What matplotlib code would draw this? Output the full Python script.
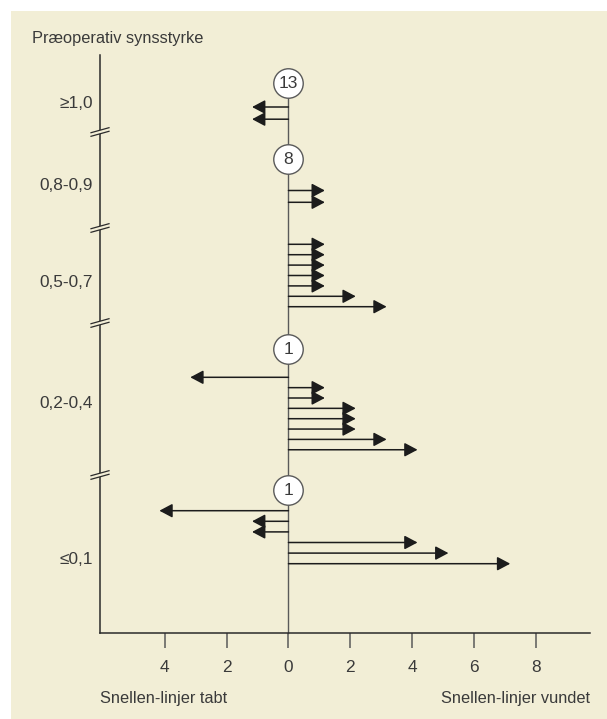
import numpy as np
import matplotlib.pyplot as plt
from matplotlib.patches import Rectangle, Polygon

plt.rcParams['font.family'] = ['Liberation Sans', 'DejaVu Sans']

# data: change in Snellen lines per eye, by preoperative visual acuity
groups = ['≥1,0', '0,8-0,9', '0,5-0,7', '0,2-0,4', '≤0,1']
unchanged = [13, 8, None, 1, 1]          # eyes with no change (circles)
changes = [[-1, -1],
           [1, 1],
           [1, 1, 1, 1, 1, 2, 3],
           [-3, 1, 1, 2, 2, 2, 3, 4],
           [-4, -1, -1, 4, 5, 7]]
xticks = [-4, -2, 0, 2, 4, 6, 8]

# layout (rows in pixels from top of figure)
label_rows = [102, 184, 281, 402, 558]
circle_rows = [83, 159, None, 349, 490]
first_rows = [107, 190.5, 244.3, 377.3, 510.7]
row_steps = [12.2, 11.8, 10.4, 10.35, 10.6]
break_rows = [132, 228, 323, 475]

W, H = 607, 719
bg = '#f2eed6'
dark = '#2b2b2b'
grey = '#5a5a5a'
txt = '#3a3a3a'
fs = 11.8
fs_lab = 12.4

fig = plt.figure(figsize=(W/100, H/100), dpi=100)
fig.patches.append(Rectangle((11/W, 0), 1 - 11/W, 1 - 11/H, transform=fig.transFigure,
                             facecolor=bg, edgecolor='none', zorder=-10))

x0, x1 = 100, 590.3
y_top, y_bot = 55, 632.7
ax = fig.add_axes([x0/W, 1 - y_bot/H, (x1 - x0)/W, (y_bot - y_top)/H])
ax.set_zorder(1)
ax.set_facecolor('none')
ax.set_xlim(-6.1, 9.77)
ax.set_ylim(y_bot, y_top)
unit = (x1 - x0) / (9.77 + 6.1)   # pixels per Snellen line

for s in ['top', 'right']:
    ax.spines[s].set_visible(False)
for s in ['left', 'bottom']:
    ax.spines[s].set_color(dark)
    ax.spines[s].set_linewidth(1.1)

ax.set_xticks(xticks)
ax.set_xticklabels([str(abs(t)) for t in xticks])
ax.tick_params(axis='x', direction='out', length=11, width=1.1, color=grey,
               pad=9, labelsize=fs_lab, labelcolor=txt)
ax.set_yticks(label_rows)
ax.set_yticklabels(groups)
ax.tick_params(axis='y', length=0, pad=5, labelsize=fs_lab, labelcolor=txt)

# central zero line
ax.plot([0, 0], [circle_rows[0], y_bot], color=grey, lw=1.0, zorder=2, clip_on=False)

# arrows
half_head = 11 / unit / 2
for g, vals in enumerate(changes):
    for i, v in enumerate(vals):
        row = first_rows[g] + i * row_steps[g]
        tip = v + np.sign(v) * half_head
        ax.annotate('', xy=(tip, row), xytext=(0, row),
                    arrowprops=dict(arrowstyle='-|>,head_length=0.79,head_width=0.42',
                                    color='#1c1c1c', lw=1.1, shrinkA=0, shrinkB=0,
                                    mutation_scale=10), zorder=3)

# circles with number unchanged
for g, n in enumerate(unchanged):
    if n is None:
        continue
    ax.scatter([0], [circle_rows[g]], s=450, facecolor='white', edgecolor=grey,
               linewidth=1.0, zorder=4, clip_on=False)
    ax.text(0, circle_rows[g] + 0.5, str(n), ha='center', va='center',
            fontsize=12.6, color=txt, zorder=5)

# axis break marks
xa = -6.1
dx = 9 / unit
for r in break_rows:
    off = 1.8
    poly = Polygon([(xa - dx, r + 2.5 - off), (xa + dx, r - 2.5 - off),
                    (xa + dx, r - 2.5 + off), (xa - dx, r + 2.5 + off)],
                   closed=True, facecolor=bg, edgecolor='none', zorder=5, clip_on=False)
    ax.add_patch(poly)
    for o in (-off, off):
        ax.plot([xa - dx, xa + dx], [r + 2.5 + o, r - 2.5 + o], color=dark, lw=0.9,
                zorder=6, clip_on=False)

fig.text(32/W, 1 - 39/H, 'Præoperativ synsstyrke', ha='left', va='center',
         fontsize=fs, color=txt)
fig.text(100/W, 1 - 698/H, 'Snellen-linjer tabt', ha='left', va='center',
         fontsize=fs, color=txt)
fig.text(590/W, 1 - 698/H, 'Snellen-linjer vundet', ha='right', va='center',
         fontsize=fs, color=txt)

plt.savefig('out.png', dpi=100)
